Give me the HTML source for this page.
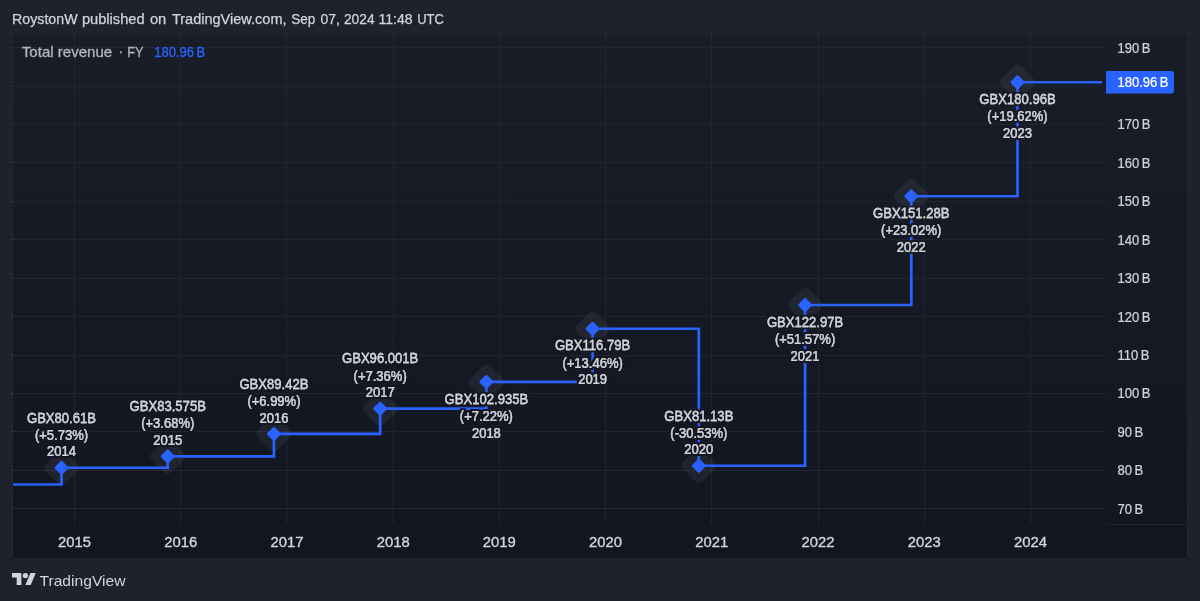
<!DOCTYPE html>
<html><head><meta charset="utf-8"><title>Total revenue chart</title>
<style>
html,body{margin:0;padding:0;background:#1e222d;width:1200px;height:601px;overflow:hidden}
svg{display:block}
text{font-family:"Liberation Sans", Arial, sans-serif;}
.lb{font-size:14.5px;fill:#151924;text-anchor:middle;stroke:#151924;stroke-width:4.5px;stroke-linejoin:round}
.lt{font-size:14.5px;fill:#d1d4dc;text-anchor:middle;stroke:#d1d4dc;stroke-width:0.25px}
.ax{font-size:14px;fill:#d1d4dc;stroke:#d1d4dc;stroke-width:0.25px}
.tx{font-size:14px;fill:#d1d4dc;text-anchor:middle;stroke:#d1d4dc;stroke-width:0.35px}
.hd{font-size:14.5px;fill:#d1d4dc;stroke:#d1d4dc;stroke-width:0.25px}
.lg{font-size:14px;fill:#b2b5be;stroke:#b2b5be;stroke-width:0.3px}
.ft{font-size:15px;fill:#d1d4dc}
</style></head>
<body>
<svg width="1200" height="601" viewBox="0 0 1200 601">
<rect x="0" y="0" width="1200" height="601" fill="#1e222d"/>
<defs><linearGradient id="pg" x1="0" y1="0" x2="0" y2="1"><stop offset="0" stop-color="#191d28"/><stop offset="1" stop-color="#121621"/></linearGradient></defs>
<rect x="13" y="34.8" width="1174" height="523.2" fill="url(#pg)"/>
<line x1="11.5" y1="33.5" x2="11.5" y2="558" stroke="#363a4c" stroke-width="1.3" stroke-dasharray="1.3 6.7" stroke-linecap="butt"/>
<line x1="1188.5" y1="33.5" x2="1188.5" y2="558" stroke="#363a4c" stroke-width="1.3" stroke-dasharray="1.3 6.7" stroke-linecap="butt"/>
<line x1="13" y1="47.5" x2="1106" y2="47.5" stroke="#212533" stroke-width="1"/>
<rect x="11.8" y="46.8" width="1.4" height="1.4" fill="#363a4c"/>
<line x1="13" y1="86.5" x2="1106" y2="86.5" stroke="#212533" stroke-width="1"/>
<rect x="11.8" y="85.8" width="1.4" height="1.4" fill="#363a4c"/>
<line x1="13" y1="124.5" x2="1106" y2="124.5" stroke="#212533" stroke-width="1"/>
<rect x="11.8" y="123.8" width="1.4" height="1.4" fill="#363a4c"/>
<line x1="13" y1="162.5" x2="1106" y2="162.5" stroke="#212533" stroke-width="1"/>
<rect x="11.8" y="161.8" width="1.4" height="1.4" fill="#363a4c"/>
<line x1="13" y1="201.5" x2="1106" y2="201.5" stroke="#212533" stroke-width="1"/>
<rect x="11.8" y="200.8" width="1.4" height="1.4" fill="#363a4c"/>
<line x1="13" y1="239.5" x2="1106" y2="239.5" stroke="#212533" stroke-width="1"/>
<rect x="11.8" y="238.8" width="1.4" height="1.4" fill="#363a4c"/>
<line x1="13" y1="278.5" x2="1106" y2="278.5" stroke="#212533" stroke-width="1"/>
<rect x="11.8" y="277.8" width="1.4" height="1.4" fill="#363a4c"/>
<line x1="13" y1="316.5" x2="1106" y2="316.5" stroke="#212533" stroke-width="1"/>
<rect x="11.8" y="315.8" width="1.4" height="1.4" fill="#363a4c"/>
<line x1="13" y1="355.5" x2="1106" y2="355.5" stroke="#212533" stroke-width="1"/>
<rect x="11.8" y="354.8" width="1.4" height="1.4" fill="#363a4c"/>
<line x1="13" y1="393.5" x2="1106" y2="393.5" stroke="#212533" stroke-width="1"/>
<rect x="11.8" y="392.8" width="1.4" height="1.4" fill="#363a4c"/>
<line x1="13" y1="431.5" x2="1106" y2="431.5" stroke="#212533" stroke-width="1"/>
<rect x="11.8" y="430.8" width="1.4" height="1.4" fill="#363a4c"/>
<line x1="13" y1="470.5" x2="1106" y2="470.5" stroke="#212533" stroke-width="1"/>
<rect x="11.8" y="469.8" width="1.4" height="1.4" fill="#363a4c"/>
<line x1="13" y1="508.5" x2="1106" y2="508.5" stroke="#212533" stroke-width="1"/>
<rect x="11.8" y="507.8" width="1.4" height="1.4" fill="#363a4c"/>
<line x1="74.5" y1="34" x2="74.5" y2="524" stroke="#212533" stroke-width="1"/>
<rect x="73.8" y="32.8" width="1.4" height="1.4" fill="#363a4c"/>
<line x1="180.5" y1="34" x2="180.5" y2="524" stroke="#212533" stroke-width="1"/>
<rect x="179.8" y="32.8" width="1.4" height="1.4" fill="#363a4c"/>
<line x1="286.5" y1="34" x2="286.5" y2="524" stroke="#212533" stroke-width="1"/>
<rect x="285.8" y="32.8" width="1.4" height="1.4" fill="#363a4c"/>
<line x1="393.5" y1="34" x2="393.5" y2="524" stroke="#212533" stroke-width="1"/>
<rect x="392.8" y="32.8" width="1.4" height="1.4" fill="#363a4c"/>
<line x1="499.5" y1="34" x2="499.5" y2="524" stroke="#212533" stroke-width="1"/>
<rect x="498.8" y="32.8" width="1.4" height="1.4" fill="#363a4c"/>
<line x1="605.5" y1="34" x2="605.5" y2="524" stroke="#212533" stroke-width="1"/>
<rect x="604.8" y="32.8" width="1.4" height="1.4" fill="#363a4c"/>
<line x1="711.5" y1="34" x2="711.5" y2="524" stroke="#212533" stroke-width="1"/>
<rect x="710.8" y="32.8" width="1.4" height="1.4" fill="#363a4c"/>
<line x1="818.5" y1="34" x2="818.5" y2="524" stroke="#212533" stroke-width="1"/>
<rect x="817.8" y="32.8" width="1.4" height="1.4" fill="#363a4c"/>
<line x1="924.5" y1="34" x2="924.5" y2="524" stroke="#212533" stroke-width="1"/>
<rect x="923.8" y="32.8" width="1.4" height="1.4" fill="#363a4c"/>
<line x1="1030.5" y1="34" x2="1030.5" y2="524" stroke="#212533" stroke-width="1"/>
<rect x="1029.8" y="32.8" width="1.4" height="1.4" fill="#363a4c"/>
<line x1="1106" y1="524.5" x2="1187" y2="524.5" stroke="#212533" stroke-width="1"/>
<rect x="47.75" y="453.99" width="27.5" height="27.5" rx="5" fill="#ffffff" fill-opacity="0.055" transform="rotate(45 61.50 467.74)"/>
<rect x="153.97" y="442.60" width="27.5" height="27.5" rx="5" fill="#ffffff" fill-opacity="0.055" transform="rotate(45 167.72 456.35)"/>
<rect x="260.19" y="420.15" width="27.5" height="27.5" rx="5" fill="#ffffff" fill-opacity="0.055" transform="rotate(45 273.94 433.90)"/>
<rect x="366.42" y="394.86" width="27.5" height="27.5" rx="5" fill="#ffffff" fill-opacity="0.055" transform="rotate(45 380.17 408.61)"/>
<rect x="472.64" y="368.22" width="27.5" height="27.5" rx="5" fill="#ffffff" fill-opacity="0.055" transform="rotate(45 486.39 381.97)"/>
<rect x="578.86" y="315.00" width="27.5" height="27.5" rx="5" fill="#ffffff" fill-opacity="0.055" transform="rotate(45 592.61 328.75)"/>
<rect x="685.08" y="451.99" width="27.5" height="27.5" rx="5" fill="#ffffff" fill-opacity="0.055" transform="rotate(45 698.83 465.74)"/>
<rect x="791.30" y="291.26" width="27.5" height="27.5" rx="5" fill="#ffffff" fill-opacity="0.055" transform="rotate(45 805.05 305.01)"/>
<rect x="897.53" y="182.50" width="27.5" height="27.5" rx="5" fill="#ffffff" fill-opacity="0.055" transform="rotate(45 911.28 196.25)"/>
<rect x="1003.75" y="68.48" width="27.5" height="27.5" rx="5" fill="#ffffff" fill-opacity="0.055" transform="rotate(45 1017.50 82.23)"/>
<polyline points="13.00,484.52 61.50,484.52 61.50,467.74 167.72,467.74 167.72,456.35 273.94,456.35 273.94,433.90 380.17,433.90 380.17,408.61 486.39,408.61 486.39,381.97 592.61,381.97 592.61,328.75 698.83,328.75 698.83,465.74 805.05,465.74 805.05,305.01 911.28,305.01 911.28,196.25 1017.50,196.25 1017.50,82.23 1102.00,82.23" fill="none" stroke="#2962ff" stroke-width="2.7" stroke-linejoin="miter"/>
<rect x="56.20" y="462.44" width="10.6" height="10.6" rx="1.2" fill="#2962ff" transform="rotate(45 61.50 467.74)"/>
<rect x="162.42" y="451.05" width="10.6" height="10.6" rx="1.2" fill="#2962ff" transform="rotate(45 167.72 456.35)"/>
<rect x="268.64" y="428.60" width="10.6" height="10.6" rx="1.2" fill="#2962ff" transform="rotate(45 273.94 433.90)"/>
<rect x="374.87" y="403.31" width="10.6" height="10.6" rx="1.2" fill="#2962ff" transform="rotate(45 380.17 408.61)"/>
<rect x="481.09" y="376.67" width="10.6" height="10.6" rx="1.2" fill="#2962ff" transform="rotate(45 486.39 381.97)"/>
<rect x="587.31" y="323.45" width="10.6" height="10.6" rx="1.2" fill="#2962ff" transform="rotate(45 592.61 328.75)"/>
<rect x="693.53" y="460.44" width="10.6" height="10.6" rx="1.2" fill="#2962ff" transform="rotate(45 698.83 465.74)"/>
<rect x="799.75" y="299.71" width="10.6" height="10.6" rx="1.2" fill="#2962ff" transform="rotate(45 805.05 305.01)"/>
<rect x="905.98" y="190.95" width="10.6" height="10.6" rx="1.2" fill="#2962ff" transform="rotate(45 911.28 196.25)"/>
<rect x="1012.20" y="76.93" width="10.6" height="10.6" rx="1.2" fill="#2962ff" transform="rotate(45 1017.50 82.23)"/>
<filter id="h0" x="-15%" y="-45%" width="130%" height="190%"><feMorphology in="SourceAlpha" operator="dilate" radius="1.7 1.7" result="d"/><feFlood flood-color="#141823"/><feComposite in2="d" operator="in"/><feMerge><feMergeNode/><feMergeNode in="SourceGraphic"/></feMerge></filter>
<text transform="translate(61.50 422.54) scale(0.9028 1)" class="lt" filter="url(#h0)">GBX80.61B</text>
<text transform="translate(61.50 439.74) scale(0.8966 1)" class="lt" filter="url(#h0)">(+5.73%)</text>
<filter id="h1" x="-15%" y="-45%" width="130%" height="190%"><feMorphology in="SourceAlpha" operator="dilate" radius="1.7 1.7" result="d"/><feFlood flood-color="#131722"/><feComposite in2="d" operator="in"/><feMerge><feMergeNode/><feMergeNode in="SourceGraphic"/></feMerge></filter>
<text transform="translate(61.50 456.34) scale(0.8966 1)" class="lt" filter="url(#h1)">2014</text>
<text transform="translate(167.72 411.15) scale(0.9028 1)" class="lt" filter="url(#h0)">GBX83.575B</text>
<text transform="translate(167.72 428.35) scale(0.8966 1)" class="lt" filter="url(#h0)">(+3.68%)</text>
<text transform="translate(167.72 444.95) scale(0.8966 1)" class="lt" filter="url(#h0)">2015</text>
<text transform="translate(273.94 388.70) scale(0.9028 1)" class="lt" filter="url(#h0)">GBX89.42B</text>
<text transform="translate(273.94 405.90) scale(0.8966 1)" class="lt" filter="url(#h0)">(+6.99%)</text>
<text transform="translate(273.94 422.50) scale(0.8966 1)" class="lt" filter="url(#h0)">2016</text>
<filter id="h2" x="-15%" y="-45%" width="130%" height="190%"><feMorphology in="SourceAlpha" operator="dilate" radius="1.7 1.7" result="d"/><feFlood flood-color="#151924"/><feComposite in2="d" operator="in"/><feMerge><feMergeNode/><feMergeNode in="SourceGraphic"/></feMerge></filter>
<text transform="translate(380.17 363.41) scale(0.9028 1)" class="lt" filter="url(#h2)">GBX96.001B</text>
<text transform="translate(380.17 380.61) scale(0.8966 1)" class="lt" filter="url(#h0)">(+7.36%)</text>
<text transform="translate(380.17 397.21) scale(0.8966 1)" class="lt" filter="url(#h0)">2017</text>
<text transform="translate(486.39 403.57) scale(0.9028 1)" class="lt" filter="url(#h0)">GBX102.935B</text>
<text transform="translate(486.39 420.87) scale(0.8966 1)" class="lt" filter="url(#h0)">(+7.22%)</text>
<text transform="translate(486.39 437.57) scale(0.8966 1)" class="lt" filter="url(#h0)">2018</text>
<text transform="translate(592.61 350.35) scale(0.9028 1)" class="lt" filter="url(#h2)">GBX116.79B</text>
<text transform="translate(592.61 367.65) scale(0.8966 1)" class="lt" filter="url(#h2)">(+13.46%)</text>
<text transform="translate(592.61 384.35) scale(0.8966 1)" class="lt" filter="url(#h0)">2019</text>
<text transform="translate(698.83 420.54) scale(0.9028 1)" class="lt" filter="url(#h0)">GBX81.13B</text>
<text transform="translate(698.83 437.74) scale(0.8966 1)" class="lt" filter="url(#h0)">(-30.53%)</text>
<text transform="translate(698.83 454.34) scale(0.8966 1)" class="lt" filter="url(#h1)">2020</text>
<text transform="translate(805.05 326.61) scale(0.9028 1)" class="lt" filter="url(#h2)">GBX122.97B</text>
<text transform="translate(805.05 343.91) scale(0.8966 1)" class="lt" filter="url(#h2)">(+51.57%)</text>
<text transform="translate(805.05 360.61) scale(0.8966 1)" class="lt" filter="url(#h2)">2021</text>
<filter id="h3" x="-15%" y="-45%" width="130%" height="190%"><feMorphology in="SourceAlpha" operator="dilate" radius="1.7 1.7" result="d"/><feFlood flood-color="#171b26"/><feComposite in2="d" operator="in"/><feMerge><feMergeNode/><feMergeNode in="SourceGraphic"/></feMerge></filter>
<text transform="translate(911.28 217.85) scale(0.9028 1)" class="lt" filter="url(#h3)">GBX151.28B</text>
<filter id="h4" x="-15%" y="-45%" width="130%" height="190%"><feMorphology in="SourceAlpha" operator="dilate" radius="1.7 1.7" result="d"/><feFlood flood-color="#161a25"/><feComposite in2="d" operator="in"/><feMerge><feMergeNode/><feMergeNode in="SourceGraphic"/></feMerge></filter>
<text transform="translate(911.28 235.15) scale(0.8966 1)" class="lt" filter="url(#h4)">(+23.02%)</text>
<text transform="translate(911.28 251.85) scale(0.8966 1)" class="lt" filter="url(#h4)">2022</text>
<filter id="h5" x="-15%" y="-45%" width="130%" height="190%"><feMorphology in="SourceAlpha" operator="dilate" radius="1.7 1.7" result="d"/><feFlood flood-color="#181c27"/><feComposite in2="d" operator="in"/><feMerge><feMergeNode/><feMergeNode in="SourceGraphic"/></feMerge></filter>
<text transform="translate(1017.50 103.83) scale(0.9028 1)" class="lt" filter="url(#h5)">GBX180.96B</text>
<text transform="translate(1017.50 121.13) scale(0.8966 1)" class="lt" filter="url(#h5)">(+19.62%)</text>
<text transform="translate(1017.50 137.83) scale(0.8966 1)" class="lt" filter="url(#h5)">2023</text>
<text transform="translate(1117.5 52.60) scale(0.93 1)" class="ax">190 B</text>
<text transform="translate(1117.5 91.02) scale(0.93 1)" class="ax">180 B</text>
<text transform="translate(1117.5 129.43) scale(0.93 1)" class="ax">170 B</text>
<text transform="translate(1117.5 167.85) scale(0.93 1)" class="ax">160 B</text>
<text transform="translate(1117.5 206.27) scale(0.93 1)" class="ax">150 B</text>
<text transform="translate(1117.5 244.68) scale(0.93 1)" class="ax">140 B</text>
<text transform="translate(1117.5 283.10) scale(0.93 1)" class="ax">130 B</text>
<text transform="translate(1117.5 321.52) scale(0.93 1)" class="ax">120 B</text>
<text transform="translate(1117.5 359.93) scale(0.93 1)" class="ax">110 B</text>
<text transform="translate(1117.5 398.35) scale(0.93 1)" class="ax">100 B</text>
<text transform="translate(1117.5 436.77) scale(0.93 1)" class="ax">90 B</text>
<text transform="translate(1117.5 475.18) scale(0.93 1)" class="ax">80 B</text>
<text transform="translate(1117.5 513.60) scale(0.93 1)" class="ax">70 B</text>
<path d="M1106 71 H1171 a3 3 0 0 1 3 3 V90.5 a3 3 0 0 1 -3 3 H1106 Z" fill="#2962ff"/>
<text transform="translate(1117.5 87.3) scale(0.93 1)" class="ax" style="fill:#ffffff;stroke:#ffffff">180.96 B</text>
<text x="74.50" y="546.8" class="tx" textLength="33" lengthAdjust="spacingAndGlyphs">2015</text>
<text x="180.72" y="546.8" class="tx" textLength="33" lengthAdjust="spacingAndGlyphs">2016</text>
<text x="286.94" y="546.8" class="tx" textLength="33" lengthAdjust="spacingAndGlyphs">2017</text>
<text x="393.17" y="546.8" class="tx" textLength="33" lengthAdjust="spacingAndGlyphs">2018</text>
<text x="499.39" y="546.8" class="tx" textLength="33" lengthAdjust="spacingAndGlyphs">2019</text>
<text x="605.61" y="546.8" class="tx" textLength="33" lengthAdjust="spacingAndGlyphs">2020</text>
<text x="711.83" y="546.8" class="tx" textLength="33" lengthAdjust="spacingAndGlyphs">2021</text>
<text x="818.05" y="546.8" class="tx" textLength="33" lengthAdjust="spacingAndGlyphs">2022</text>
<text x="924.28" y="546.8" class="tx" textLength="33" lengthAdjust="spacingAndGlyphs">2023</text>
<text x="1030.50" y="546.8" class="tx" textLength="33" lengthAdjust="spacingAndGlyphs">2024</text>
<text y="24" class="hd"><tspan x="12.0" textLength="65.6" lengthAdjust="spacingAndGlyphs">RoystonW</tspan> <tspan x="81.9" textLength="62.7" lengthAdjust="spacingAndGlyphs">published</tspan> <tspan x="149.9" textLength="16.4" lengthAdjust="spacingAndGlyphs">on</tspan> <tspan x="171.9" textLength="114.7" lengthAdjust="spacingAndGlyphs">TradingView.com,</tspan> <tspan x="291.2" textLength="24.1" lengthAdjust="spacingAndGlyphs">Sep</tspan> <tspan x="320.5" textLength="19.4" lengthAdjust="spacingAndGlyphs">07,</tspan> <tspan x="343.9" textLength="30.7" lengthAdjust="spacingAndGlyphs">2024</tspan> <tspan x="378.5" textLength="34.1" lengthAdjust="spacingAndGlyphs">11:48</tspan> <tspan x="417.2" textLength="26.7" lengthAdjust="spacingAndGlyphs">UTC</tspan></text>
<text y="56.6" class="lg"><tspan x="21.8" textLength="90.4" lengthAdjust="spacingAndGlyphs">Total revenue</tspan> <tspan x="118.5" y="55.6">·</tspan> <tspan x="127.3" y="56.6" textLength="16.2" lengthAdjust="spacingAndGlyphs">FY</tspan></text>
<text x="154.2" y="56.6" class="lg" style="fill:#2962ff;stroke:#2962ff" textLength="51" lengthAdjust="spacingAndGlyphs">180.96 B</text>
<g transform="translate(12,570.2) scale(0.67)" fill="#d1d4dc"><path d="M14 22H7V11H0V4h14v18zM28 22h-8l7.5-18h8L28 22z"/><circle cx="20" cy="8" r="4"/></g>
<text x="39.5" y="585.6" class="ft" textLength="86" lengthAdjust="spacingAndGlyphs">TradingView</text>
</svg>
</body></html>
